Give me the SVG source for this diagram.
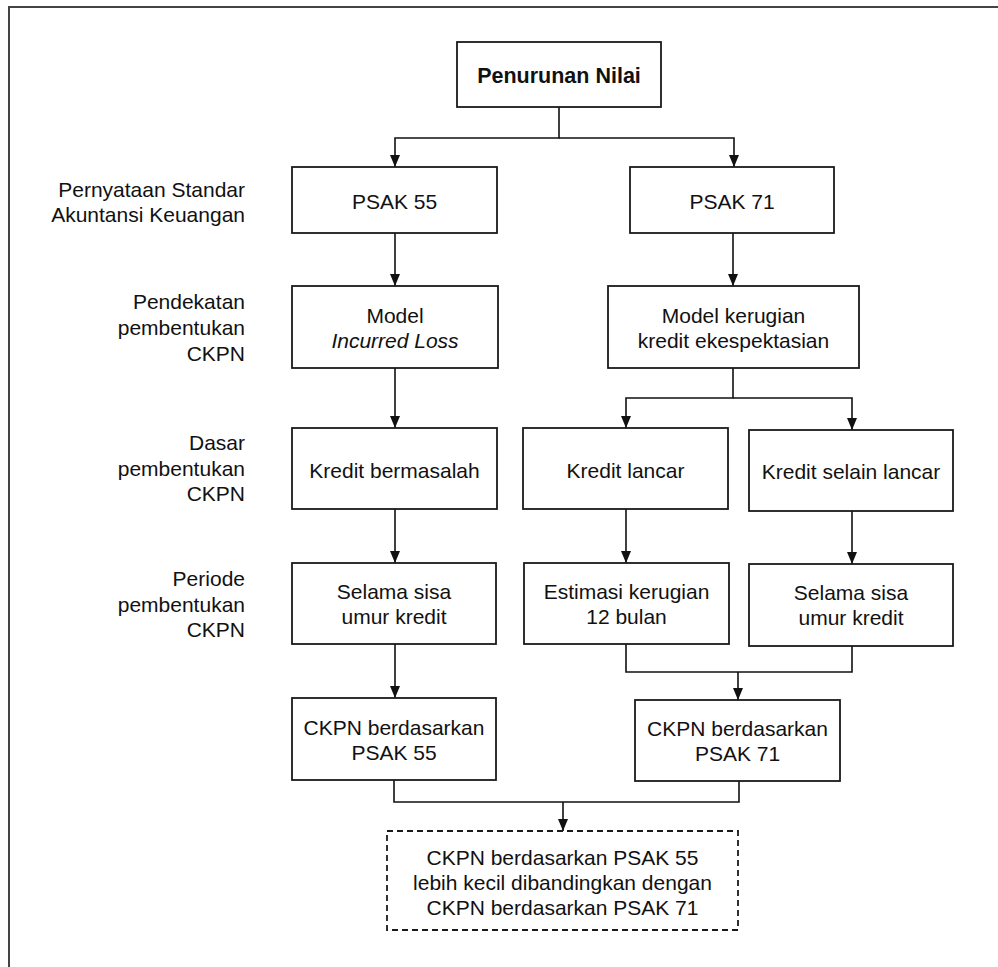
<svg xmlns="http://www.w3.org/2000/svg" width="998" height="967" viewBox="0 0 998 967">
<style>
text{font-family:"Liberation Sans",Arial,sans-serif;font-size:21px;fill:#111;text-anchor:middle}
.lbl{text-anchor:end}
.box{fill:#fff;stroke:#1a1a1a;stroke-width:1.8}
.dash{fill:#fff;stroke:#1a1a1a;stroke-width:1.8;stroke-dasharray:6 4}
.conn path{fill:none;stroke:#111;stroke-width:1.6;marker-end:url(#ah)}
.conn path.plain{marker-end:none}
</style>
<defs>
<marker id="ah" viewBox="0 0 12 10" refX="12" refY="5" markerWidth="12" markerHeight="10" markerUnits="userSpaceOnUse" orient="auto">
<path d="M0,0 L12,5 L0,10 Z" fill="#111"/>
</marker>
</defs>
<rect width="998" height="967" fill="#fff"/>
<path d="M9,967 V7 H998" fill="none" stroke="#444" stroke-width="2"/>

<g id="labels">
<text class="lbl" x="245" y="197">Pernyataan Standar</text>
<text class="lbl" x="245" y="222">Akuntansi Keuangan</text>
<text class="lbl" x="245" y="309">Pendekatan</text>
<text class="lbl" x="245" y="335">pembentukan</text>
<text class="lbl" x="245" y="361">CKPN</text>
<text class="lbl" x="245" y="450">Dasar</text>
<text class="lbl" x="245" y="476">pembentukan</text>
<text class="lbl" x="245" y="501">CKPN</text>
<text class="lbl" x="245" y="586">Periode</text>
<text class="lbl" x="245" y="612">pembentukan</text>
<text class="lbl" x="245" y="637">CKPN</text>
</g>

<g class="conn" id="connectors">
<path d="M559,107 V138 H395 V167"/>
<path d="M559,138 H734 V167"/>
<path d="M395,233 V286"/>
<path d="M733,233 V286"/>
<path d="M395,368 V428"/>
<path d="M733,368 V398 H626 V428"/>
<path d="M733,398 H852 V430"/>
<path d="M395,509 V563"/>
<path d="M626,509 V563"/>
<path d="M852,511 V564"/>
<path d="M395,644 V698"/>
<path class="plain" d="M626,644 V672 H852 V646"/>
<path d="M738,672 V700"/>
<path class="plain" d="M394,780 V802 H739 V781"/>
<path d="M563,802 V831"/>
</g>

<g id="n-penurunan"><rect class="box" x="457" y="42" width="204" height="65"/><text x="559" y="83" style="font-weight:bold;font-size:21.5px">Penurunan Nilai</text></g>
<g id="n-psak55"><rect class="box" x="292" y="167" width="205" height="66"/><text x="394.5" y="209">PSAK 55</text></g>
<g id="n-psak71"><rect class="box" x="630" y="167" width="204" height="66"/><text x="732" y="209">PSAK 71</text></g>
<g id="n-model-il"><rect class="box" x="292" y="286" width="206" height="82"/><text x="395" y="323">Model</text><text x="395" y="348" style="font-style:italic">Incurred Loss</text></g>
<g id="n-model-kke"><rect class="box" x="608" y="286" width="251" height="82"/><text x="733.5" y="323">Model kerugian</text><text x="733.5" y="348">kredit ekespektasian</text></g>
<g id="n-kredit-bermasalah"><rect class="box" x="292" y="428" width="205" height="81"/><text x="394.5" y="478">Kredit bermasalah</text></g>
<g id="n-kredit-lancar"><rect class="box" x="523" y="428" width="205" height="81"/><text x="625.5" y="478">Kredit lancar</text></g>
<g id="n-kredit-selain"><rect class="box" x="749" y="430" width="204" height="81"/><text x="851" y="479">Kredit selain lancar</text></g>
<g id="n-selama-l"><rect class="box" x="292" y="563" width="204" height="81"/><text x="394" y="599">Selama sisa</text><text x="394" y="624">umur kredit</text></g>
<g id="n-estimasi"><rect class="box" x="524" y="563" width="205" height="81"/><text x="626.5" y="599">Estimasi kerugian</text><text x="626.5" y="624">12 bulan</text></g>
<g id="n-selama-r"><rect class="box" x="749" y="564" width="204" height="82"/><text x="851" y="600">Selama sisa</text><text x="851" y="625">umur kredit</text></g>
<g id="n-ckpn55"><rect class="box" x="292" y="698" width="204" height="82"/><text x="394" y="735">CKPN berdasarkan</text><text x="394" y="760">PSAK 55</text></g>
<g id="n-ckpn71"><rect class="box" x="635" y="700" width="205" height="81"/><text x="737.5" y="736">CKPN berdasarkan</text><text x="737.5" y="761">PSAK 71</text></g>
<g id="n-kesimpulan"><rect class="dash" x="387" y="831" width="351" height="99"/><text x="562.5" y="865">CKPN berdasarkan PSAK 55</text><text x="562.5" y="890">lebih kecil dibandingkan dengan</text><text x="562.5" y="915">CKPN berdasarkan PSAK 71</text></g>
</svg>
